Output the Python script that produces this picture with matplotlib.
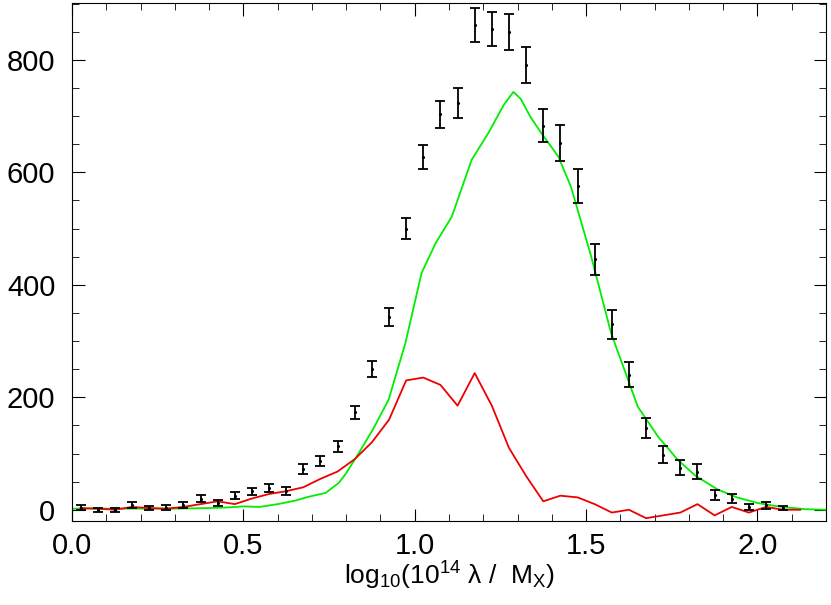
import matplotlib
matplotlib.use("Agg")
import matplotlib.pyplot as plt

plt.rcParams["font.family"] = "Liberation Sans"
plt.rcParams["mathtext.fontset"] = "custom"
plt.rcParams["mathtext.rm"] = "Liberation Sans"
plt.rcParams["mathtext.it"] = "Liberation Sans"

pts_x = [0.025,0.075,0.125,0.175,0.225,0.275,0.325,0.375,0.425,0.475,0.525,0.575,0.625,0.675,0.725,0.775,0.825,0.875,0.925,0.975,1.025,1.075,1.125,1.175,1.225,1.275,1.325,1.375,1.425,1.475,1.525,1.575,1.625,1.675,1.725,1.775,1.825,1.875,1.925,1.975,2.025,2.075]
pts_y = [4,0,0,9,3,4,8,20,12,25,33,38,33,72,87,113,173,250,343,500,627,703,723,862,855,850,790,683,652,575,445,330,240,145,98,75,68,27,20,5,8,3]
pts_err = [5,4,4,5,4,4,5,6,5,6,6,7,7,9,9,10,12,14,16,18,22,24,26,30,30,32,32,30,32,30,28,26,22,18,15,13,13,9,8,5,6,4]

green_x = [0.0,0.1,0.2,0.3,0.4,0.45,0.5,0.547,0.6,0.65,0.69,0.74,0.779,0.80,0.837,0.88,0.924,0.973,1.020,1.061,1.108,1.166,1.215,1.26,1.288,1.31,1.337,1.369,1.419,1.456,1.515,1.573,1.651,1.71,1.767,1.82,1.884,1.94,2.0,2.05,2.087,2.14,2.2]
green_y = [2,2,2,2,3,4,6,5,10,16,23,30,48,65,101,145,196,297,421,474,521,622,670,720,743,730,699,670,628,574,450,314,183,130,89,60,36,22,12,7,4,1,0]

red_x = [round(0.025 + 0.05*i, 3) for i in range(43)]
red_y = [3,2,0,5,3,2,5,10,15,10,20,28,33,40,55,68,90,120,160,230,235,222,185,243,185,110,60,15,25,22,10,-5,0,-15,-10,-5,10,-10,5,-5,5,0,0]

fig = plt.figure(figsize=(8.31,6.05), dpi=100)
ax = fig.add_axes([72/831, 1-521/605, (826-72)/831, (521-3)/605])
ax.plot(green_x, green_y, color="#00ee00", lw=1.3)
ax.plot(red_x, red_y, color="#ee0000", lw=1.3)
ax.errorbar(pts_x, pts_y, yerr=pts_err, fmt='.', color='black', ms=2.5, capsize=3.5, elinewidth=1.3, capthick=1.3)
ax.set_xlim(0, 2.2)
ax.set_ylim(-20, 901)
ax.set_xticks([0.0,0.5,1.0,1.5,2.0])
ax.set_xticklabels(["0.0","0.5","1.0","1.5","2.0"])
ax.set_yticks([0,200,400,600,800])
ax.tick_params(labelsize=21, direction='in', length=9, top=True, right=True, pad=8)
ax.tick_params(axis='y', pad=12)
ax.xaxis.set_minor_locator(matplotlib.ticker.MultipleLocator(0.1))
ax.yaxis.set_minor_locator(matplotlib.ticker.MultipleLocator(50))
ax.tick_params(which='minor', direction='in', length=5, top=True, right=True)
ax.set_xlabel(r"log$_{10}$(10$^{14}$ $\lambda$ /  M$_{\rm X}$)", fontsize=19, labelpad=0)
fig.savefig("out.png", dpi=100)
